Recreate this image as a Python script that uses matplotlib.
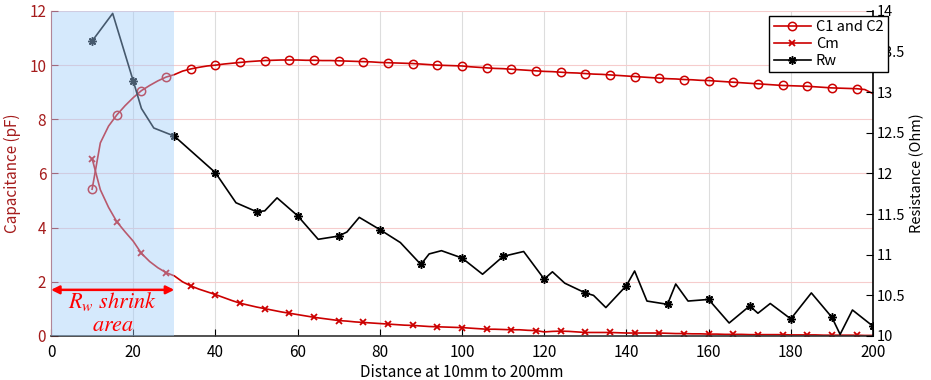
import matplotlib
matplotlib.use("Agg")
import matplotlib.pyplot as plt
import numpy as np

plt.rcParams["font.family"] = ["Noto Sans CJK JP", "DejaVu Sans"]
plt.rcParams["mathtext.fontset"] = "stix"

# capacitance, sampled every 2 mm from 10 to 200
distance_c = np.arange(10, 201, 2)
c1_c2 = [5.42, 7.13, 7.75, 8.16, 8.50, 8.80, 9.06, 9.25, 9.42, 9.56,
         9.65, 9.78, 9.86, 9.92, 9.97, 10.00, 10.04, 10.07, 10.10, 10.13,
         10.15, 10.17, 10.18, 10.19, 10.19, 10.19, 10.18, 10.18, 10.17, 10.17,
         10.16, 10.15, 10.14, 10.13, 10.12, 10.10, 10.09, 10.08, 10.07, 10.06,
         10.04, 10.02, 10.00, 9.99, 9.98, 9.97, 9.94, 9.92, 9.90, 9.88,
         9.87, 9.85, 9.83, 9.81, 9.79, 9.77, 9.76, 9.74, 9.72, 9.71,
         9.69, 9.67, 9.66, 9.64, 9.62, 9.60, 9.58, 9.56, 9.54, 9.52,
         9.50, 9.49, 9.47, 9.46, 9.44, 9.43, 9.41, 9.39, 9.37, 9.35,
         9.33, 9.31, 9.29, 9.27, 9.25, 9.24, 9.23, 9.22, 9.20, 9.18,
         9.16, 9.15, 9.14, 9.13, 9.10, 8.95]
cm = [6.55, 5.40, 4.75, 4.22, 3.85, 3.50, 3.05, 2.75, 2.52, 2.34,
      2.22, 2.00, 1.85, 1.73, 1.63, 1.53, 1.42, 1.31, 1.21, 1.14,
      1.07, 1.01, 0.95, 0.89, 0.84, 0.79, 0.74, 0.69, 0.65, 0.61,
      0.57, 0.55, 0.52, 0.50, 0.48, 0.46, 0.44, 0.42, 0.40, 0.39,
      0.37, 0.35, 0.34, 0.33, 0.32, 0.31, 0.29, 0.27, 0.25, 0.25,
      0.24, 0.23, 0.23, 0.21, 0.20, 0.15, 0.17, 0.18, 0.17, 0.15,
      0.13, 0.13, 0.13, 0.13, 0.12, 0.11, 0.11, 0.11, 0.11, 0.11,
      0.10, 0.09, 0.09, 0.08, 0.08, 0.07, 0.07, 0.06, 0.06, 0.06,
      0.05, 0.05, 0.05, 0.05, 0.05, 0.04, 0.04, 0.04, 0.04, 0.03,
      0.03, 0.03, 0.03, 0.03, 0.02, 0.02]

# winding resistance
distance_r = [10, 15, 20, 22, 25, 30, 40, 45, 50, 52, 55, 60, 65, 70, 72, 75,
              80, 85, 90, 92, 95, 100, 105, 110, 115, 120, 122, 125, 130, 132,
              135, 140, 142, 145, 150, 152, 155, 160, 165, 170, 172, 175, 180,
              185, 190, 192, 195, 200]
rw = [13.63, 13.97, 13.14, 12.80, 12.56, 12.46, 12.01, 11.64, 11.53, 11.54,
      11.70, 11.48, 11.19, 11.23, 11.28, 11.46, 11.31, 11.15, 10.88, 11.01,
      11.05, 10.96, 10.76, 10.98, 11.04, 10.70, 10.79, 10.65, 10.53, 10.50,
      10.35, 10.62, 10.80, 10.43, 10.39, 10.64, 10.43, 10.45, 10.16, 10.37,
      10.28, 10.40, 10.21, 10.53, 10.23, 10.02, 10.32, 10.12]

shrink_end = 30

red = "#cc0000"
dark_red = "#a51c1c"

fig = plt.figure(figsize=(9.31, 3.8), dpi=100)
ax = fig.add_axes([0.0548, 0.1158, 0.8829, 0.8553])
ax2 = ax.twinx()

ax.plot(distance_c, c1_c2, color=red, lw=1.2, marker="o", ms=6, mfc="none",
        mec=red, mew=1.1, markevery=3, label="C1 and C2")
ax.plot(distance_c, cm, color=red, lw=1.2, marker="x", ms=4, mec=red,
        mew=1.3, markevery=3, label="Cm")
marks = [i for i, d in enumerate(distance_r) if d % 10 == 0]
ax2.plot(distance_r, rw, color="black", lw=1.2, marker=(8, 2, 0), ms=6,
         mew=1.1, markevery=marks, label="Rw")

ax.set_xlim(0, 200)
ax.set_ylim(0, 12)
ax2.set_ylim(10, 14)
ax.set_xticks(np.arange(0, 201, 20))
ax.set_yticks(np.arange(0, 13, 2))
ax2.set_yticks(np.arange(10, 14.01, 0.5))
ax2.set_yticklabels(["10", "10.5", "11", "11.5", "12", "12.5", "13", "13.5", "14"])

ax.grid(axis="y", color="#f6cccc", lw=0.8)
ax.grid(axis="x", color="#dddddd", lw=0.8)
ax.set_axisbelow(True)

ax.tick_params(axis="x", direction="in", length=5, labelsize=11, colors="black", pad=6)
ax.tick_params(axis="y", direction="in", length=5, labelsize=11, colors=dark_red)
ax2.tick_params(axis="y", direction="in", length=5, labelsize=10.5, colors="black", pad=3)

for a in (ax, ax2):
    a.spines["top"].set_visible(False)
ax.spines["left"].set_color("#c0504d")
ax.spines["right"].set_visible(False)
ax2.spines["left"].set_visible(False)
ax2.spines["bottom"].set_visible(False)
ax.spines["bottom"].set_color("#333333")
ax.spines["bottom"].set_linewidth(1.2)
ax2.spines["right"].set_linewidth(1.2)

ax.set_xlabel("Distance at 10mm to 200mm", fontsize=11, labelpad=2)
ax.set_ylabel("Capacitance (pF)", fontsize=11, color=dark_red, labelpad=6)
ax2.set_ylabel("Resistance (Ohm)", fontsize=10.5, color="black", labelpad=3)

# shaded region where Rw shrinks
ax2.axvspan(0, shrink_end, color="#a0cdfa", alpha=0.44, lw=0, zorder=3)
ax2.annotate("", xy=(0, 0.142), xytext=(shrink_end, 0.142),
             xycoords=("data", "axes fraction"),
             textcoords=("data", "axes fraction"),
             arrowprops=dict(arrowstyle="<|-|>", color="#ff0000", lw=1.8,
                             mutation_scale=12, shrinkA=0, shrinkB=0),
             zorder=6)
ax2.text(shrink_end / 2, 0.106, r"$R_w\ shrink$", transform=ax2.get_xaxis_transform(),
         ha="center", va="center", color="#ff0000", fontsize=16, zorder=6)
ax2.text(shrink_end / 2, 0.036, r"$area$", transform=ax2.get_xaxis_transform(),
         ha="center", va="center", color="#ff0000", fontsize=16, zorder=6)

h1, l1 = ax.get_legend_handles_labels()
h2, l2 = ax2.get_legend_handles_labels()
leg = ax2.legend(h1 + h2, l1 + l2, loc="upper right", bbox_to_anchor=(1.018, 0.985),
                 fontsize=10.5, frameon=True, fancybox=False, edgecolor="black",
                 framealpha=1, borderpad=0.3, labelspacing=0.2, handlelength=2.6,
                 handletextpad=0.3, borderaxespad=0)
leg.get_frame().set_linewidth(1.0)
leg.set_zorder(10)

fig.savefig("out.png", dpi=100)
